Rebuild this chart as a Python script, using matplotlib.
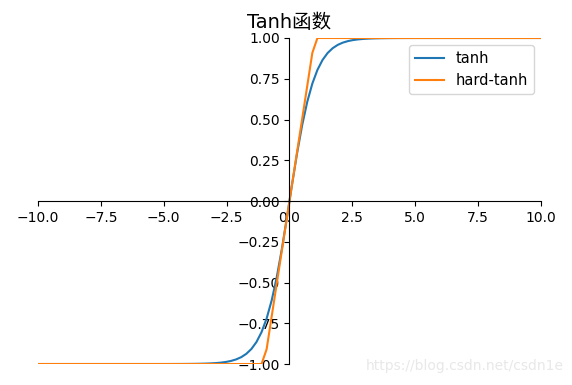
import numpy as np
import matplotlib
matplotlib.use("Agg")
import matplotlib.pyplot as plt

plt.rcParams['font.family'] = ['DejaVu Sans', 'Noto Sans CJK SC']
plt.rcParams['axes.unicode_minus'] = True

x = np.linspace(-10, 10, 100)
y_tanh = np.tanh(x)
y_hard = np.clip(x, -1, 1)

fig = plt.figure(figsize=(5.72, 3.85), dpi=100)
ax = fig.add_axes([0.0664, 0.0545, 0.8794, 0.8468])
ax.plot(x, y_tanh, label='tanh')
ax.plot(x, y_hard, label='hard-tanh')
ax.set_xlim(-10, 10)
ax.set_ylim(-1, 1)
ax.set_xticks(np.arange(-10, 10.1, 2.5))
ax.set_yticks(np.arange(-1, 1.01, 0.25))
ax.spines['right'].set_visible(False)
ax.spines['top'].set_visible(False)
ax.spines['left'].set_position(('data', 0))
ax.spines['bottom'].set_position(('data', 0))
ax.set_title('Tanh函数', fontsize=14, pad=7, family=['DejaVu Sans', 'Noto Sans CJK SC'])
ax.legend(loc='upper right', fontsize=10.5)
fig.text(0.985, 0.03, 'https://blog.csdn.net/csdn1e', ha='right', va='bottom',
         color='#e8e8e8', fontsize=10, family='DejaVu Sans')
fig.savefig('out.png', dpi=100)
